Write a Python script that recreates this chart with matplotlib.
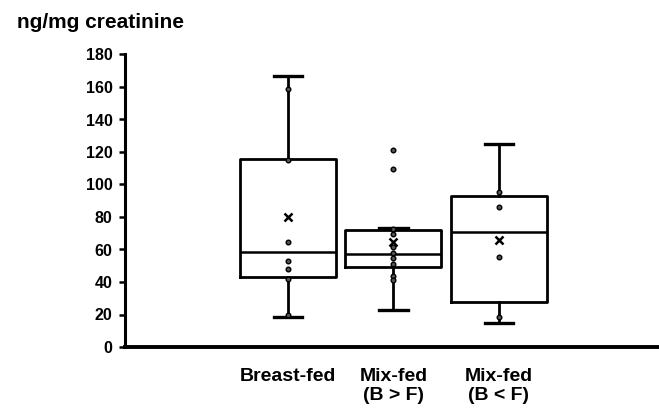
import matplotlib.pyplot as plt

plt.rcParams['font.family'] = ['Liberation Sans', 'DejaVu Sans']
plt.rcParams['font.weight'] = 'bold'

# ---- data ----
groups = ["Breast-fed", "Mix-fed\n(B > F)", "Mix-fed\n(B < F)"]
q1 = [43.3, 49.0, 27.9]
median = [58.5, 57.5, 70.6]
q3 = [115.7, 72.0, 93.0]
whisker_low = [18.7, 22.5, 14.6]
whisker_high = [166.5, 73.5, 125.0]
means = [80.2, 64.8, 65.8]

points = [
    [158.5, 115.0, 64.8, 52.9, 47.8, 41.6, 19.7],
    [121.2, 109.5, 72.4, 69.5, 61.5, 58.0, 54.8, 51.0, 43.7, 41.2],
    [95.6, 86.0, 55.2, 18.7],
]

ticks = [0, 20, 40, 60, 80, 100, 120, 140, 160, 180]

# ---- figure ----
fig = plt.figure(figsize=(6.59, 4.11), dpi=100)
ax = fig.add_axes([125 / 659, 64 / 411, 534 / 659, 292.5 / 411])

stats = []
for i in range(len(groups)):
    stats.append({
        "q1": q1[i], "med": median[i], "q3": q3[i],
        "whislo": whisker_low[i], "whishi": whisker_high[i],
        "mean": means[i], "fliers": [],
    })

pos = [1, 2, 3]
ax.bxp(stats, positions=pos, widths=0.91, capwidths=0.27,
       showmeans=True, meanline=False, showfliers=False,
       boxprops=dict(color="black", linewidth=2.0),
       medianprops=dict(color="black", linewidth=1.8),
       whiskerprops=dict(color="black", linewidth=2.0),
       capprops=dict(color="black", linewidth=2.4),
       meanprops=dict(marker="x", markeredgecolor="black",
                      markersize=6, markeredgewidth=1.8))

for p, vals in zip(pos, points):
    ax.scatter([p] * len(vals), vals, s=11, facecolor="#555555",
               edgecolor="black", linewidth=1.0, zorder=4)

ax.set_xlim(-0.545, 4.52)
ax.set_ylim(0, 180)
ax.set_yticks(ticks)
ax.set_yticklabels([str(t) for t in ticks], fontsize=11.5, fontweight="bold")
ax.set_xticks(pos)
ax.set_xticklabels(groups, fontsize=14, fontweight="bold", linespacing=1.15)
ax.tick_params(axis="x", length=0, pad=15)
ax.tick_params(axis="y", length=4, width=1.8, direction="out", pad=5)

for s in ["top", "right"]:
    ax.spines[s].set_visible(False)
ax.spines["left"].set_linewidth(2.2)
ax.spines["bottom"].set_linewidth(2.8)

fig.text(17 / 659, 1 - 23 / 411, "ng/mg creatinine", fontsize=15,
         fontweight="bold", va="center", ha="left")

fig.savefig("out.png", dpi=100)
